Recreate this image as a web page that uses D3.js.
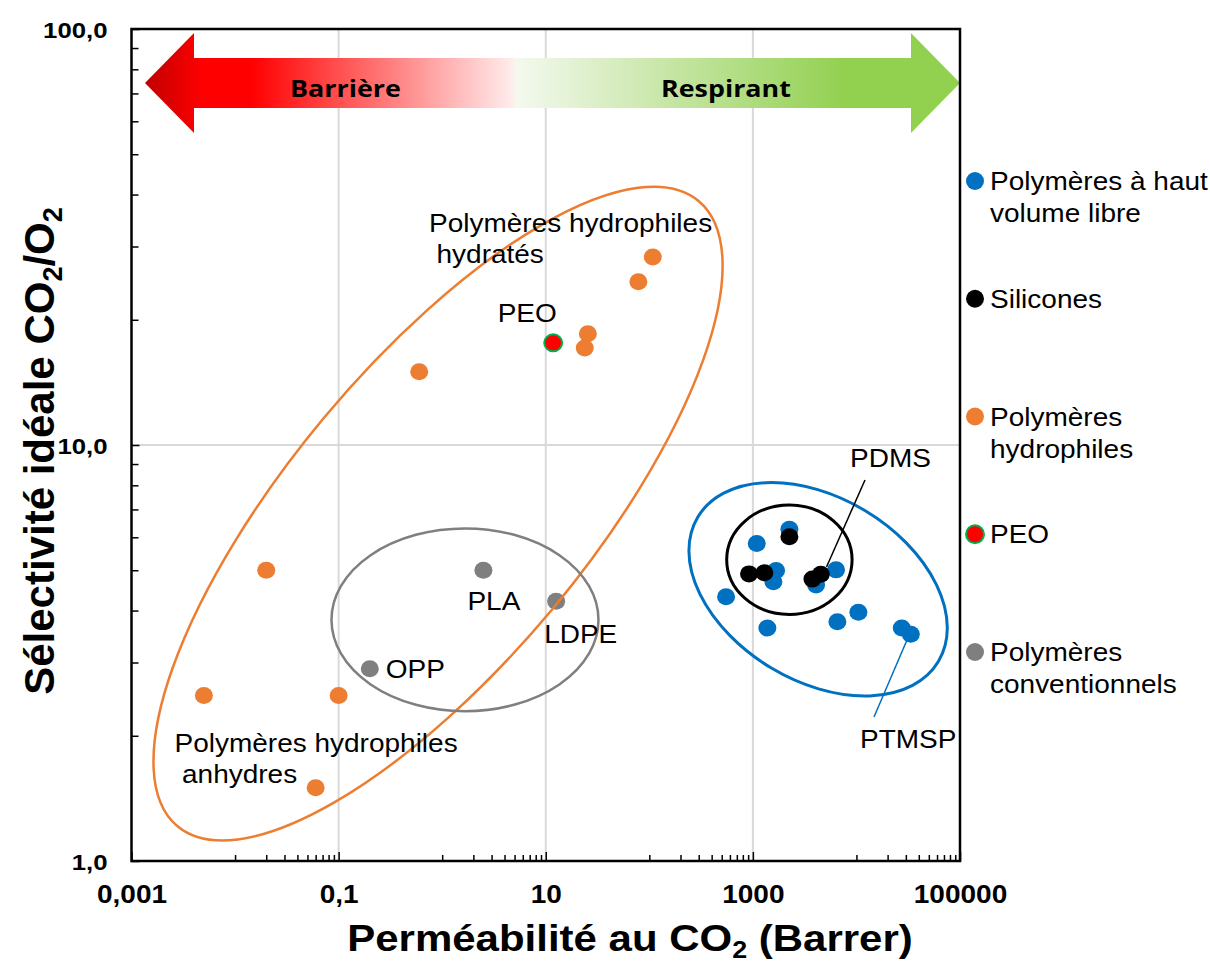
<!DOCTYPE html>
<html>
<head>
<meta charset="utf-8">
<script src="https://cdn.jsdelivr.net/npm/d3@7"></script>
<style>
  html, body { margin: 0; padding: 0; background: #fff; }
  svg { display: block; font-family: "Liberation Sans", Arial, sans-serif; }
</style>
</head>
<body>
<svg id="chart" width="1210" height="965"></svg>
<script>
// values: CO2 permeability (Barrer) and CO2/O2 selectivity
const xMajorTicks = [0.001, 0.1, 10, 1000, 100000];
const xTickLabels = ['0,001', '0,1', '10', '1000', '100000'];
const yMajorTicks = [1, 10, 100];
const yTickLabels = ['1,0', '10,0', '100,0'];

const hvlX = [2252, 1090, 1675, 1578, 4075, 6355, 551, 1380, 6546, 10440, 27400, 33500];
const hvlY = [6.27, 5.80, 4.99, 4.69, 4.61, 5.01, 4.32, 3.63, 3.76, 3.96, 3.63, 3.51];
const siliconeX = [2252, 918, 1291, 3757, 4528];
const siliconeY = [6.02, 4.90, 4.93, 4.76, 4.89];
const hydroX = [0.005, 0.02, 0.1, 0.06, 0.6, 23.8, 25.5, 78.4, 108];
const hydroY = [2.5, 5.0, 2.5, 1.5, 15.0, 17.1, 18.5, 24.7, 28.3];
const peoX = [11.8];
const peoY = [17.6];
const convNames = ['PLA', 'LDPE', 'OPP'];
const convX = [2.5, 12.6, 0.2];
const convY = [5.0, 4.21, 2.9];

const legendLabels = [
  ['Polymères à haut', 'volume libre'],
  ['Silicones'],
  ['Polymères', 'hydrophiles'],
  ['PEO'],
  ['Polymères', 'conventionnels']
];

const BLUE = '#0070c0', ORANGE = '#ed7d31', GRAY = '#7f7f7f';
const SX = 1.12; // the original picture is a bit wider than tall

const svg = d3.select('#chart');
const x = d3.scaleLog().domain([0.001, 100000]).range([131.5, 960]);
const y = d3.scaleLog().domain([1, 100]).range([861, 29]);
const [x0, x1] = x.range();
const [y0, y1] = y.range();

const zip = (xs, ys) => xs.map((v, i) => ({ x: v, y: ys[i] }));

function addText(parent, tx, ty, str, size, opts = {}) {
  return parent.append('text')
    .attr('transform', `translate(${tx},${ty}) scale(${SX},1)`)
    .attr('font-size', size)
    .attr('font-weight', opts.bold ? 'bold' : null)
    .attr('text-anchor', opts.anchor || 'start')
    .attr('font-family', opts.family || null)
    .attr('fill', '#000')
    .text(str);
}

// grid
svg.append('g').selectAll('line').data([0.1, 10, 1000]).join('line')
  .attr('x1', d => x(d)).attr('x2', d => x(d))
  .attr('y1', y1).attr('y2', y0)
  .attr('stroke', '#d9d9d9').attr('stroke-width', 2);
svg.append('g').selectAll('line').data([10]).join('line')
  .attr('x1', x0).attr('x2', x1)
  .attr('y1', d => y(d)).attr('y2', d => y(d))
  .attr('stroke', '#d9d9d9').attr('stroke-width', 2);

// gradient arrow Barrière / Respirant
const defs = svg.append('defs');
const grad = defs.append('linearGradient').attr('id', 'arrowGrad')
  .attr('gradientUnits', 'userSpaceOnUse')
  .attr('x1', x0 + 13.5).attr('x2', x1).attr('y1', 0).attr('y2', 0);
[[0, '#c00000'], [0.07, '#ff0000'], [0.13, '#ff0000'], [0.45, '#ffecec'],
 [0.455, '#f4f9ef'], [0.86, '#92d050'], [1, '#92d050']].forEach(s => {
  grad.append('stop').attr('offset', s[0]).attr('stop-color', s[1]);
});
const aL = x0 + 13.5, aR = x1, aMid = 83, headW = 49, bodyH = 25, headH = 50;
const arrowPts = [
  [aL, aMid], [aL + headW, aMid - headH], [aL + headW, aMid - bodyH],
  [aR - headW, aMid - bodyH], [aR - headW, aMid - headH], [aR, aMid],
  [aR - headW, aMid + headH], [aR - headW, aMid + bodyH],
  [aL + headW, aMid + bodyH], [aL + headW, aMid + headH]
];
svg.append('path').attr('d', d3.line()(arrowPts) + 'Z').attr('fill', 'url(#arrowGrad)');
addText(svg, 290, 97, 'Barrière', 24, { bold: true, family: '"Open Sans", sans-serif' });
addText(svg, 661, 97, 'Respirant', 24, { bold: true, family: '"Open Sans", sans-serif' });

// points
function drawPoints(data, fill, stroke) {
  svg.append('g').selectAll('ellipse').data(data).join('ellipse')
    .attr('cx', d => x(d.x)).attr('cy', d => y(d.y))
    .attr('rx', 9).attr('ry', 8.5)
    .attr('fill', fill)
    .attr('stroke', stroke || 'none').attr('stroke-width', stroke ? 2 : 0);
}
drawPoints(zip(hvlX, hvlY), BLUE);
drawPoints(zip(siliconeX, siliconeY), '#000');
drawPoints(zip(hydroX, hydroY), ORANGE);
drawPoints(zip(peoX, peoY), '#ff0000', '#00b050');
const conv = zip(convX, convY).map((d, i) => ({ ...d, name: convNames[i] }));
drawPoints(conv, GRAY);

// group ellipses (centres in data units, radii in pixels)
const groups = [
  { cx: 0.912, cy: 6.84, rx: 407, ry: 149, rot: -50.2, color: ORANGE, w: 2.5 },
  { cx: 1.66, cy: 3.80, rx: 133.5, ry: 91.4, rot: 0, color: GRAY, w: 2.5 },
  { cx: 4265, cy: 4.50, rx: 140.3, ry: 91.6, rot: 31, color: BLUE, w: 3 },
  { cx: 2252, cy: 5.30, rx: 62.7, ry: 54.7, rot: 0, color: '#000', w: 3 }
];
svg.append('g').selectAll('ellipse').data(groups).join('ellipse')
  .attr('transform', d => `translate(${x(d.cx)},${y(d.cy)}) rotate(${d.rot})`)
  .attr('rx', d => d.rx).attr('ry', d => d.ry)
  .attr('fill', 'none').attr('stroke', d => d.color).attr('stroke-width', d => d.w);

// point labels
const convOffsets = { PLA: [-16, 40], LDPE: [-12, 42], OPP: [16, 9] };
conv.forEach(d => {
  const o = convOffsets[d.name];
  addText(svg, x(d.x) + o[0], y(d.y) + o[1], d.name, 25);
});
addText(svg, x(peoX[0]) - 55.5, y(peoY[0]) - 21, 'PEO', 25);
addText(svg, 429, 232, 'Polymères hydrophiles', 25);
addText(svg, 436.5, 263, 'hydratés', 25);
addText(svg, 174.5, 752, 'Polymères hydrophiles', 25);
addText(svg, 182, 783, 'anhydres', 25);
addText(svg, 850, 467, 'PDMS', 25);
addText(svg, 860, 748, 'PTMSP', 25);
svg.append('line').attr('x1', 865).attr('y1', 480).attr('x2', 826.5).attr('y2', 567)
  .attr('stroke', '#000').attr('stroke-width', 1.5);
svg.append('line').attr('x1', 910).attr('y1', 633).attr('x2', 874).attr('y2', 717)
  .attr('stroke', BLUE).attr('stroke-width', 1.5);

// axes: ticks inside, labels outside
const xMinor = [];
[-3, -1, 1, 3].forEach(e => d3.range(1, 10).forEach(k => xMinor.push(k * Math.pow(10, e + 1))));
const yMinor = [];
[0, 1].forEach(e => d3.range(2, 10).forEach(k => yMinor.push(k * Math.pow(10, e))));

const gx = svg.append('g').attr('transform', `translate(0,${y0})`);
gx.append('g').call(d3.axisBottom(x).tickValues(xMinor).tickFormat('').tickSize(-6));
gx.append('g').call(d3.axisBottom(x).tickValues(xMajorTicks)
  .tickFormat((d, i) => xTickLabels[i]).tickSize(-9).tickPadding(24.5));
gx.selectAll('.domain').remove();
gx.selectAll('line').attr('stroke', '#000').attr('stroke-width', 1.5);
gx.selectAll('text')
  .attr('transform', `scale(${SX},1)`)
  .attr('font-size', 25).attr('font-weight', 'bold')
  .attr('font-family', '"Liberation Sans", Arial, sans-serif').attr('fill', '#000');

const gy = svg.append('g').attr('transform', `translate(${x0},0)`);
gy.append('g').call(d3.axisLeft(y).tickValues(yMinor).tickFormat('').tickSize(-7));
gy.append('g').call(d3.axisLeft(y).tickValues(yMajorTicks)
  .tickFormat((d, i) => yTickLabels[i]).tickSize(-8));
gy.selectAll('.domain').remove();
gy.selectAll('line').attr('stroke', '#000').attr('stroke-width', 1.5);
gy.selectAll('text')
  .attr('x', -24 / SX).attr('dy', '0.36em')
  .attr('transform', `scale(${SX},1)`)
  .attr('font-size', 23).attr('font-weight', 'bold')
  .attr('font-family', '"Liberation Sans", Arial, sans-serif').attr('fill', '#000');

// plot frame
svg.append('rect').attr('x', x0).attr('y', y1)
  .attr('width', x1 - x0).attr('height', y0 - y1)
  .attr('fill', 'none').attr('stroke', '#000').attr('stroke-width', 2.5);

// axis titles
const xt = addText(svg, 630, 951, '', 37.5, { bold: true, anchor: 'middle' });
xt.append('tspan').text('Perméabilité au CO');
xt.append('tspan').attr('font-size', 24).attr('dy', 7).text('2');
xt.append('tspan').attr('dy', -7).text(' (Barrer)');

const yt = svg.append('text')
  .attr('transform', 'translate(54,451) rotate(-90)')
  .attr('font-size', 42).attr('font-weight', 'bold').attr('text-anchor', 'middle');
yt.append('tspan').text('Sélectivité idéale CO');
yt.append('tspan').attr('font-size', 27).attr('dy', 8).text('2');
yt.append('tspan').attr('dy', -8).text('/O');
yt.append('tspan').attr('font-size', 27).attr('dy', 8).text('2');

// legend
const legendColors = [BLUE, '#000', ORANGE, '#ff0000', GRAY];
const leg = svg.append('g');
legendLabels.forEach((lines, i) => {
  const base = 190 + i * 117.75;
  leg.append('ellipse').attr('cx', 975).attr('cy', base - 9)
    .attr('rx', 9).attr('ry', 9)
    .attr('fill', legendColors[i])
    .attr('stroke', i === 3 ? '#00b050' : 'none').attr('stroke-width', i === 3 ? 2 : 0);
  lines.forEach((l, j) => addText(leg, 990, base + j * 32, l, 25));
});
</script>
</body>
</html>
